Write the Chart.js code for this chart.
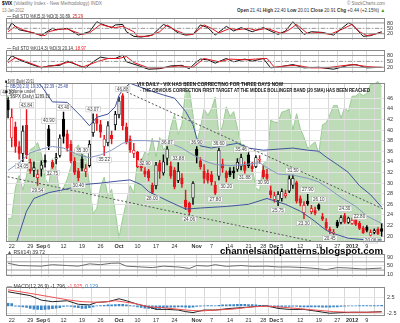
<!DOCTYPE html>
<html>
<head>
<meta charset="utf-8">
<script src="https://cdn.jsdelivr.net/npm/chart.js@4.4.0/dist/chart.umd.min.js"></script>
<style>
  html, body { margin: 0; padding: 0; background: #fff; }
  #wrap { position: relative; width: 400px; height: 323px; overflow: hidden; font-family: "Liberation Sans", Arial, sans-serif; }
  #wrap canvas { position: absolute; left: 0; }
  .t { position: absolute; white-space: nowrap; font-size: 5px; line-height: 5px; color: #333; transform-origin: left top; }
  .b { font-weight: bold; }
</style>
</head>
<body>
<div id="wrap">
  <canvas id="sto5" width="400" height="32" style="top:13px"></canvas>
  <canvas id="sto14" width="400" height="33" style="top:45px"></canvas>
  <canvas id="spxBg" width="400" height="171" style="top:78px"></canvas>
  <canvas id="price" width="400" height="171" style="top:78px"></canvas>
  <canvas id="rsi" width="400" height="33" style="top:249px"></canvas>
  <canvas id="macd" width="400" height="41" style="top:282px"></canvas>

  <div class="t" style="left:2px;top:1px;font-size:5.5px" data-w="100"><b style="color:#000">$VIX</b> <span style="color:#777">(Volatility Index - New Methodology) INDX</span></div>
  <div class="t" style="left:2px;top:8px;color:#777" data-w="22">13-Jan-2012</div>
  <div class="t" style="left:347px;top:1px;color:#777" data-w="38">© StockCharts.com</div>
  <div class="t" id="ohlcHead" style="left:237px;top:8px" data-w="148"></div>

  <div class="t" id="sto5Head" style="left:7px;top:14px" data-w="76"></div>
  <div class="t" id="sto14Head" style="left:7px;top:46px" data-w="79"></div>

  <div class="t" id="vixLeg" style="left:5px;top:79px" data-w="29"></div>
  <div class="t" id="bbLeg" style="left:5px;top:84px;color:#3b4f9a" data-w="63"></div>
  <div class="t" style="left:5px;top:89px" data-w="30"><span style="color:#000">■</span> Volume undef</div>
  <div class="t" id="spxLeg" style="left:5px;top:94px" data-w="45"></div>

  <div class="t b" style="left:137px;top:82px;color:#111" data-w="146">VIX DAILY - VIX HAS BEEN CORRECTING FOR THREE DAYS NOW</div>
  <div class="t b" style="left:140px;top:88px;color:#111" data-w="230">- THE OBVIOUS CORRECTION FIRST TARGET AT THE MIDDLE BOLLINGER BAND (20 SMA) HAS BEEN REACHED</div>

  <div class="t b" style="left:220px;top:247px;font-size:9px;line-height:9px;color:#000" data-w="163">channelsandpatterns.blogspot.com</div>
  <div class="t" id="rsiHead" style="left:7px;top:250px" data-w="38"></div>
  <div class="t" id="macdHead" style="left:7px;top:284px" data-w="91"></div>
</div>

<script>
const FONT = '"Liberation Sans", Arial, sans-serif';

// trading sessions, 19 Aug 2011 - 13 Jan 2012
const augDays = [19, 22, 23, 24, 25, 26, 29, 30, 31];
const sepDays = [1, 2, 6, 7, 8, 9, 12, 13, 14, 15, 16, 19, 20, 21, 22, 23, 26, 27, 28, 29, 30];
const octDays = [3, 4, 5, 6, 7, 10, 11, 12, 13, 14, 17, 18, 19, 20, 21, 24, 25, 26, 27, 28, 31];
const novDays = [1, 2, 3, 4, 7, 8, 9, 10, 11, 14, 15, 16, 17, 18, 21, 22, 23, 25, 28, 29, 30];
const decDays = [1, 2, 5, 6, 7, 8, 9, 12, 13, 14, 15, 16, 19, 20, 21, 22, 23, 27, 28, 29, 30];
const janDays = [3, 4, 5, 6, 9, 10, 11, 12, 13];
const sessions = [].concat(
  augDays.map(d => 'Aug ' + d), sepDays.map(d => 'Sep ' + d), octDays.map(d => 'Oct ' + d),
  novDays.map(d => 'Nov ' + d), decDays.map(d => 'Dec ' + d), janDays.map(d => 'Jan ' + d)
);

const tickDates = ['Aug 22', 'Aug 29', 'Sep 1', 'Sep 6', 'Sep 12', 'Sep 19', 'Sep 26', 'Oct 3', 'Oct 10', 'Oct 17', 'Oct 24',
  'Nov 1', 'Nov 7', 'Nov 14', 'Nov 21', 'Nov 28', 'Dec 1', 'Dec 5', 'Dec 12', 'Dec 19', 'Dec 27', 'Jan 3', 'Jan 9'];
const tickText = ['22', '29', 'Sep', '6', '12', '19', '26', 'Oct', '10', '17', '24',
  'Nov', '7', '14', '21', '28', 'Dec', '5', '12', '19', '27', '2012', '9'];
const monthTicks = ['Sep', 'Oct', 'Nov', 'Dec', '2012'];

// $VIX daily candles
const open = [45.6, 38.5, 40.6, 36.9, 35.6, 40.9, 34.0, 32.4, 31.0, 32.6,
  34.3, 40.2, 33.9, 34.5, 35.2, 42.0, 39.3, 37.3, 34.1, 32.3,
  34.5, 32.2, 33.3, 39.5, 42.1, 41.0, 36.9, 37.6, 39.0, 41.0,
  42.9, 46.5, 40.6, 38.3, 35.6, 35.8, 34.0, 32.3, 32.3, 29.6,
  29.5, 33.8, 31.9, 34.7, 33.2, 32.4, 30.5, 31.0, 26.8, 26.2,
  27.2, 36.4, 34.2, 32.2, 31.9, 31.6, 29.6, 31.3, 33.6, 32.0,
  32.3, 32.3, 32.6, 33.2, 33.5, 35.3, 33.2, 33.1, 34.3, 32.4,
  31.7, 28.6, 26.9, 26.7, 27.1, 27.6, 28.5, 29.6, 30.1, 27.1,
  24.4, 26.6, 24.6, 24.8, 25.9, 23.7, 22.6, 21.3, 20.6, 22.6,
  22.6, 23.9, 22.6, 22.4, 23.3, 22.4, 21.5, 21.7, 20.2, 20.7,
  21.3, 21.41];
const high = [46.2, 44.0, 41.5, 37.8, 40.8, 43.84, 34.5, 34.0, 32.5, 34.2,
  35.3, 40.9, 34.3, 35.6, 39.1, 43.4, 40.0, 38.0, 34.8, 32.8,
  35.3, 33.5, 38.0, 43.07, 43.0, 41.8, 39.0, 41.6, 39.8, 43.5,
  46.2, 46.88, 41.3, 38.9, 37.5, 36.0, 34.5, 32.9, 32.6, 30.0,
  33.9, 34.3, 35.3, 36.87, 34.0, 32.9, 33.88, 31.8, 28.7, 26.4,
  30.3, 36.9, 34.8, 33.5, 32.5, 32.2, 30.3, 36.6, 34.5, 32.3,
  32.9, 33.0, 34.6, 35.46, 34.0, 35.8, 33.9, 35.2, 35.2, 33.3,
  32.6, 29.5, 28.3, 28.4, 28.9, 28.7, 31.4, 31.5, 30.4, 27.6,
  26.5, 27.9, 25.8, 25.5, 26.1, 24.3, 23.3, 21.7, 21.3, 23.0,
  23.9, 24.3, 23.6, 23.4, 23.5, 22.8, 21.9, 22.0, 21.2, 21.4,
  21.6, 22.40];
const low = [42.3, 36.8, 35.8, 34.5, 34.05, 34.6, 31.8, 31.2, 29.54, 31.3,
  33.0, 36.3, 32.75, 33.6, 34.9, 37.5, 36.0, 33.8, 31.6, 30.4,
  32.3, 31.2, 33.0, 38.8, 39.9, 38.6, 35.22, 37.0, 37.4, 40.0,
  42.3, 40.0, 37.4, 35.8, 34.8, 32.9, 32.3, 31.2, 30.4, 28.0,
  28.9, 30.9, 31.5, 33.4, 30.9, 28.9, 30.1, 29.2, 25.0, 24.06,
  26.0, 33.8, 32.6, 30.0, 30.0, 29.6, 27.8, 30.6, 32.0, 30.2,
  31.2, 30.9, 32.2, 32.5, 31.88, 32.9, 32.2, 32.9, 33.7, 30.9,
  30.3, 27.2, 26.4, 25.75, 26.6, 27.2, 28.2, 29.0, 26.2, 25.7,
  23.3, 25.8, 24.2, 24.0, 24.9, 22.9, 21.2, 20.45, 20.3, 21.6,
  22.3, 22.4, 22.4, 22.2, 22.0, 21.2, 20.5, 20.8, 20.06, 20.4,
  20.3, 20.01];
const close = [43.8, 42.4, 36.9, 35.6, 39.8, 35.3, 32.3, 32.9, 31.6, 33.4,
  33.9, 37.0, 33.0, 34.8, 38.5, 38.8, 36.6, 34.2, 32.0, 31.0,
  32.8, 32.7, 37.3, 41.35, 41.25, 39.6, 38.3, 40.8, 38.3, 42.96,
  45.45, 40.82, 37.81, 36.27, 36.2, 33.04, 32.86, 31.7, 31.0, 28.24,
  33.4, 32.2, 34.0, 36.4, 31.32, 29.26, 32.22, 29.86, 25.46, 24.53,
  29.96, 35.2, 33.1, 30.9, 30.5, 30.2, 28.1, 36.16, 32.81, 31.0,
  31.6, 31.9, 33.9, 34.8, 32.4, 33.3, 32.7, 34.8, 34.47, 31.2,
  30.9, 27.8, 27.6, 27.9, 28.4, 28.0, 30.8, 30.9, 26.6, 26.2,
  25.8, 26.1, 25.2, 24.29, 25.2, 23.2, 21.5, 20.9, 20.73, 21.9,
  23.52, 22.65, 23.4, 22.97, 22.22, 21.48, 20.63, 21.07, 20.69, 21.05,
  20.47, 20.91];

// sessions whose high (H) or low (L) carries a price tag
const priceTags = [[0, 'H'], [4, 'L'], [5, 'H'], [8, 'L'], [11, 'H'], [12, 'L'], [15, 'H'], [19, 'L'], [20, 'H'],
  [23, 'H'], [26, 'L'], [31, 'H'], [37, 'H'], [39, 'L'], [43, 'H'], [46, 'H'], [49, 'L'], [51, 'H'], [56, 'L'],
  [57, 'H'], [59, 'L'], [63, 'H'], [64, 'L'], [69, 'L'], [73, 'L'], [77, 'H'], [80, 'L'], [81, 'H'], [84, 'H'],
  [87, 'L'], [91, 'H'], [95, 'H'], [98, 'L']];

// $SPX closes behind the price plot
const spx = [1123.5, 1123.8, 1162.4, 1177.6, 1159.3, 1176.8, 1210.1, 1212.9, 1218.9,
  1204.4, 1174.0, 1165.2, 1198.6, 1185.9, 1154.2, 1162.3, 1172.9, 1188.7, 1209.1, 1216.0,
  1204.1, 1202.1, 1166.8, 1129.6, 1136.4, 1163.0, 1175.4, 1151.1, 1160.4, 1131.4,
  1099.2, 1124.0, 1144.0, 1165.0, 1155.5, 1194.9, 1195.5, 1207.3, 1203.7, 1224.6, 1200.9,
  1225.4, 1209.9, 1215.4, 1238.3, 1254.2, 1229.1, 1242.0, 1284.6, 1285.1, 1253.3,
  1218.3, 1237.9, 1261.2, 1253.2, 1261.1, 1275.9, 1229.1, 1239.7, 1263.9, 1251.8, 1257.8,
  1236.9, 1216.1, 1215.7, 1193.0, 1188.0, 1161.8, 1158.7, 1192.6, 1195.2, 1247.0,
  1244.6, 1244.3, 1257.1, 1258.5, 1261.0, 1234.4, 1255.2, 1236.5, 1225.7, 1211.8, 1215.8,
  1219.7, 1205.4, 1241.3, 1243.7, 1254.0, 1265.3, 1265.4, 1249.6, 1263.0, 1257.6,
  1277.1, 1277.3, 1281.1, 1277.8, 1280.7, 1292.1, 1292.5, 1295.5, 1289.1];

// Bollinger bands (20, 2.0), [session, value]
const bbUpper = [[0, 53], [6, 51], [9, 48.3], [12, 45.3], [16, 45.2], [20, 42.4], [22, 40.8], [24, 42.4], [27, 43.0],
  [29, 44.4], [30, 46.5], [31, 47.6], [33, 48.8], [38, 47.5], [42, 46.6], [45, 46.0], [48, 43.5], [50, 41.0],
  [51, 38.5], [52, 37.0], [55, 36.6], [58, 37.0], [62, 37.5], [65, 36.6], [69, 36.2], [73, 36.4], [77, 36.6],
  [81, 36.2], [84, 36.0], [86, 34.9], [89, 33.5], [92, 32.0], [95, 29.5], [98, 27.8], [101, 25.48]];
const bbMiddle = [[0, 32.4], [3, 33.85], [6, 35.7], [9, 36.4], [12, 36.9], [15, 36.6], [19, 35.3], [22, 34.8],
  [25, 35.3], [28, 36.2], [31, 37.5], [34, 38.0], [37, 38.0], [40, 37.9], [44, 37.5], [47, 36.6], [50, 35.3],
  [53, 34.2], [56, 33.5], [60, 33.3], [64, 33.5], [68, 33.85], [70, 32.9], [73, 31.7], [77, 31.5], [81, 30.9],
  [84, 30.2], [86, 29.3], [90, 27.3], [94, 25.6], [97, 23.8], [101, 22.39]];
const bbLower = [[0, 14.5], [2, 18.2], [3, 20.4], [5, 24.7], [7, 27.1], [9, 27.65], [11, 28.2], [16, 28.9],
  [20, 29.7], [25, 30.0], [30, 30.4], [33, 30.6], [36, 29.7], [38, 28.4], [43, 26.7], [48, 25.1], [52, 25.3],
  [59, 25.6], [65, 26.0], [70, 27.1], [75, 26.0], [79, 24.7], [82, 23.3], [86, 21.1], [88, 20.5], [92, 19.6],
  [97, 19.3], [101, 19.30]];

// hand-drawn trend lines
const trendHigh = [[31, 47.5], [104, 24.3]];
const trendLow = [[-2.2, 31.5], [90, 17.9]];

// Full STO %K / %D, [session, value]
const sto5K = [[0, 42], [1, 80], [3, 42], [7, 24], [9, 9], [10, 24], [12, 50], [13, 42], [16, 50], [19, 12], [22, 31],
  [24, 87], [26, 69], [28, 54], [29, 69], [31, 72], [32, 31], [34, 5], [36, 1], [39, 12], [42, 72], [44, 54],
  [46, 24], [48, 12], [50, 16], [51, 42], [52, 69], [54, 54], [56, 12], [59, 61], [61, 35], [63, 54], [66, 31],
  [69, 54], [73, 16], [75, 35], [77, 87], [80, 16], [82, 31], [85, 27], [88, 12], [92, 80], [93, 72], [96, 5],
  [98, 9], [101, 30.89]];
const sto5D = [[0, 31], [2, 61], [4, 42], [8, 16], [10, 9], [11, 31], [14, 46], [16, 46], [20, 16], [22, 24], [25, 72],
  [27, 61], [29, 54], [31, 61], [34, 31], [35, 5], [38, 5], [41, 31], [43, 69], [45, 42], [48, 16], [50, 16],
  [53, 69], [55, 50], [57, 24], [60, 50], [62, 42], [65, 50], [67, 39], [70, 50], [74, 20], [76, 42], [78, 72],
  [81, 20], [84, 27], [87, 16], [90, 42], [93, 72], [95, 31], [97, 9], [101, 25.29]];
const sto14K = [[0, 55], [1, 79], [3, 58], [6, 37], [9, 17], [11, 27], [14, 30], [16, 51], [19, 30], [21, 17], [23, 48],
  [25, 72], [27, 65], [29, 65], [31, 82], [32, 48], [35, 30], [38, 10], [41, 13], [44, 27], [47, 30], [49, 13],
  [51, 48], [52, 62], [54, 58], [56, 41], [59, 65], [61, 48], [64, 62], [66, 51], [69, 65], [71, 17], [74, 24],
  [77, 34], [80, 17], [84, 20], [88, 10], [92, 30], [94, 34], [97, 17], [101, 20.14]];
const sto14D = [[0, 44], [2, 69], [5, 48], [9, 20], [12, 27], [17, 48], [20, 20], [24, 48], [27, 65], [30, 65], [32, 75],
  [34, 44], [38, 17], [42, 17], [46, 27], [50, 20], [53, 65], [57, 48], [60, 62], [64, 58], [67, 62], [70, 65],
  [72, 20], [75, 27], [78, 30], [82, 17], [86, 17], [90, 27], [93, 34], [97, 24], [101, 18.97]];
const stoLevels = [80, 20];
const stoMid = 50;

// RSI(14)
const rsi14 = [[0, 63], [3, 52], [9, 49], [12, 56], [16, 52], [19, 49], [22, 60], [25, 56], [28, 63], [30, 64], [32, 49],
  [36, 45], [39, 42], [42, 49], [46, 45], [49, 38], [51, 52], [54, 49], [56, 56], [59, 48], [63, 52], [66, 48],
  [70, 49], [73, 45], [76, 45], [80, 42], [83, 38], [86, 32], [89, 42], [92, 40], [96, 35], [101, 39.72]];
const rsiLevels = [70, 30];

// MACD(12,26,9)
const macdLine = [[0, 4.4], [2, 4.0], [6, 3.2], [9, 1.8], [12, 1.3], [16, 1.6], [19, 0.5], [22, 0.3], [24, 1.1], [27, 1.3],
  [30, 2.2], [32, 1.6], [35, 0.5], [38, -0.3], [40, -1.1], [43, -1.1], [46, -1.3], [48, -1.8], [50, -2.1], [53, -1.3],
  [56, -1.3], [60, -0.8], [64, -0.5], [68, -0.1], [70, 0.0], [73, -0.8], [76, -1.1], [80, -1.1], [83, -1.6],
  [87, -2.3], [90, -2.1], [93, -2.0], [97, -2.0], [101, -1.796]];
const macdSignal = [[0, 5.0], [6, 3.9], [11, 2.9], [16, 1.9], [20, 1.3], [25, 1.1], [29, 1.6], [34, 0.8], [38, -0.3],
  [43, -0.7], [48, -1.3], [52, -1.6], [56, -1.3], [61, -1.0], [66, -0.3], [70, -0.1], [74, -0.4], [79, -0.9],
  [83, -1.3], [88, -1.8], [92, -2.0], [97, -2.0], [101, -1.925]];
const macdHist = [0.8, 0.7, -0.1, -0.2, -0.3, -0.5, -0.8, -1.0, -1.1, -1.2, -1.1, -1.0, -0.9, -0.7, -0.6,
  -0.2, -0.1, -0.2, -0.4, -0.6, -0.8, -0.8, -0.6, -0.3, 0.0, 0.1, 0.2, 0.3, 0.3, 0.4, 0.5, 0.5,
  0.3, 0.1, -0.1, -0.3, -0.5, -0.7, -0.8, -0.9, -0.9, -0.8, -0.6, -0.5, -0.4, -0.4, -0.3, -0.3, -0.4, -0.5, -0.4,
  -0.2, -0.1, 0.0, 0.1, 0.1, 0.0, 0.2, 0.3, 0.3, 0.4, 0.4, 0.5, 0.5, 0.5, 0.4, 0.4, 0.3, 0.2, 0.1,
  -0.1, -0.3, -0.4, -0.4, -0.3, -0.2, -0.2, -0.1, -0.2, -0.3, -0.3, -0.3, -0.3, -0.3, -0.3, -0.4, -0.4, -0.4,
  -0.3, -0.3, -0.2, -0.1, 0.0, 0.0, 0.0, 0.1, 0.1, 0.1, 0.1, 0.1, 0.1, 0.129];

const priceTicks = [20, 22, 24, 26, 28, 30, 32, 34, 36, 38, 40, 42, 44, 46];
const stoTicks = [20, 50, 80];
const rsiTicks = [10, 30, 50, 70, 90];
const macdTicks = [-2.5, 0, 2.5, 5];

const RED = '#e8141c', BAND = '#40549c', MID = '#8796c4';
const X_MIN = -0.55, X_MAX = 101.9;
const tickDays = tickDates.map(d => sessions.indexOf(d));
const last = a => a[a.length - 1];
const pts = arr => arr.map(([x, y]) => ({ x, y }));

Chart.defaults.font.family = FONT;
Chart.defaults.animation = false;

// ---- header texts ----
const n = close.length;
const chg = close[n - 1] - close[n - 2];
document.getElementById('ohlcHead').innerHTML =
  `<b>Open</b> ${open[n - 1].toFixed(2)} <b>High</b> ${high[n - 1].toFixed(2)} <b>Low</b> ${low[n - 1].toFixed(2)} ` +
  `<b>Close</b> ${close[n - 1].toFixed(2)} <b>Chg</b> +${chg.toFixed(2)} (+${(chg / close[n - 2] * 100).toFixed(2)}%) <span style="color:#2a9a2a">▲</span>`;
document.getElementById('sto5Head').innerHTML =
  `<span style="color:#000">—</span> Full STO %K(5,3) %D(3) ${last(sto5K)[1].toFixed(2)}, <span style="color:${RED}">${last(sto5D)[1].toFixed(2)}</span>`;
document.getElementById('sto14Head').innerHTML =
  `<span style="color:#000">—</span> Full STO %K(14,3) %D(3) ${last(sto14K)[1].toFixed(2)}, <span style="color:${RED}">${last(sto14D)[1].toFixed(2)}</span>`;
document.getElementById('vixLeg').innerHTML = `<span style="color:#000">■</span> $VIX (Daily) ${last(close).toFixed(2)}`;
document.getElementById('bbLeg').innerHTML =
  `— BB(20,2.0) ${last(bbLower)[1].toFixed(2)} - ${last(bbMiddle)[1].toFixed(2)} - ${last(bbUpper)[1].toFixed(2)}`;
document.getElementById('spxLeg').innerHTML = `<span style="color:#7fbf79">▲</span> $SPX (Daily) ${last(spx).toFixed(2)}`;
document.getElementById('rsiHead').innerHTML = `<span style="color:#555">▲</span> RSI(14) ${last(rsi14)[1].toFixed(2)}`;
document.getElementById('macdHead').innerHTML =
  `— MACD(12,26,9) ${last(macdLine)[1].toFixed(3)}, <span style="color:#f05050">${last(macdSignal)[1].toFixed(3)}</span>, ` +
  `<span style="color:#3d86c6">${last(macdHist).toFixed(3)}</span>`;

document.querySelectorAll('[data-w]').forEach(el => {
  const w = el.getBoundingClientRect().width;
  el.style.transform = `scaleX(${(+el.dataset.w / w).toFixed(3)})`;
});

// ---- shared scale builders ----
function xScale(showLabels) {
  return {
    type: 'linear', min: X_MIN, max: X_MAX, offset: false,
    afterBuildTicks: s => { s.ticks = tickDays.map(v => ({ value: v })); },
    grid: { color: '#d8d8d8', drawTicks: false },
    border: { display: false },
    ticks: {
      display: showLabels, autoSkip: false, maxRotation: 0, padding: 1, color: '#333',
      font: c => ({ size: 5.5, family: FONT, weight: monthTicks.includes(tickText[c.index]) ? 'bold' : 'normal' }),
      callback: (v, i) => tickText[i]
    },
    afterFit: s => { s.height = showLabels ? 7 : 0; }
  };
}

function yScale(min, max, ticks, fmt) {
  return {
    position: 'right', min, max,
    afterBuildTicks: s => { s.ticks = ticks.map(v => ({ value: v })); },
    grid: { color: '#e4e4e4', drawTicks: false },
    border: { display: false },
    ticks: { color: '#333', padding: 2, font: { size: 5.5, family: FONT }, callback: fmt || (v => v) },
    afterFit: s => { s.width = 15; }
  };
}

function options(y, showLabels) {
  return {
    responsive: false, devicePixelRatio: 1, events: [],
    layout: { padding: { left: 6, right: 0, top: 0, bottom: 0 } },
    plugins: { legend: { display: false }, tooltip: { enabled: false } },
    scales: { x: xScale(showLabels), y }
  };
}

function line(data, color, width, dash) {
  return { type: 'line', data, borderColor: color, borderWidth: width || 1, borderDash: dash || [],
    pointRadius: 0, tension: 0, fill: false };
}

function level(v, dash) {
  return line([{ x: X_MIN, y: v }, { x: X_MAX, y: v }], '#9a9a9a', 1, dash);
}

// panel outline
const frame = {
  id: 'frame',
  afterDraw(chart) {
    const a = chart.chartArea, g = chart.ctx;
    g.save();
    g.strokeStyle = '#8a8a8a';
    g.lineWidth = 1;
    g.strokeRect(Math.round(a.left) + 0.5, Math.round(a.top) + 0.5, Math.round(a.width) - 1, Math.round(a.height) - 1);
    g.restore();
  }
};

// boxed high / low values above or below the candles
const tagPlugin = {
  id: 'tags',
  afterDatasetsDraw(chart) {
    const { ctx, scales: { x, y } } = chart;
    ctx.save();
    ctx.font = '4.6px ' + FONT;
    ctx.textAlign = 'center';
    ctx.textBaseline = 'middle';
    priceTags.forEach(([i, side]) => {
      const v = side === 'H' ? high[i] : low[i];
      const t = v.toFixed(2);
      const px = x.getPixelForValue(i);
      const py = y.getPixelForValue(v) + (side === 'H' ? -4.5 : 4.5);
      const w = ctx.measureText(t).width + 3;
      ctx.fillStyle = 'rgba(255,255,255,0.85)';
      ctx.fillRect(px - w / 2, py - 2.7, w, 5.4);
      ctx.strokeStyle = '#b8b8b8';
      ctx.lineWidth = 0.5;
      ctx.strokeRect(px - w / 2, py - 2.7, w, 5.4);
      ctx.fillStyle = '#444';
      ctx.fillText(t, px, py + 0.3);
    });
    ctx.restore();
  }
};

// ---- stochastics ----
new Chart(document.getElementById('sto5'), {
  type: 'line',
  data: { datasets: [
    ...stoLevels.map(v => level(v)), level(stoMid, [4, 2, 1, 2]),
    line(pts(sto5D), RED), line(pts(sto5K), '#111')
  ] },
  options: options(yScale(-13.9, 106.4, stoTicks), false),
  plugins: [frame]
});

new Chart(document.getElementById('sto14'), {
  type: 'line',
  data: { datasets: [
    ...stoLevels.map(v => level(v)), level(stoMid, [4, 2, 1, 2]),
    line(pts(sto14D), RED), line(pts(sto14K), '#111')
  ] },
  options: options(yScale(-7.6, 106.6, stoTicks), false),
  plugins: [frame]
});

// ---- $SPX area behind the price panel ----
const bgOpts = options({
  position: 'right', min: 1094, max: 1300,
  grid: { display: false }, border: { display: false }, ticks: { display: false },
  afterFit: s => { s.width = 15; }
}, true);
bgOpts.scales.x.grid = { display: false };
bgOpts.scales.x.ticks = { display: false };
new Chart(document.getElementById('spxBg'), {
  type: 'line',
  data: { datasets: [{
    data: spx.map((v, i) => ({ x: i, y: v })), fill: 'start',
    backgroundColor: '#bedcb8', borderColor: '#9ccb96', borderWidth: 1, pointRadius: 0, tension: 0
  }] },
  options: bgOpts
});

// ---- price candles, bands and trend lines ----
const candleColor = close.map((c, i) => (i > 0 && c < close[i - 1]) ? RED : '#000');
const candleFill = close.map((c, i) => c < open[i] ? candleColor[i] : '#fff');

new Chart(document.getElementById('price'), {
  type: 'line',
  data: { datasets: [
    line(pts(bbMiddle), MID),
    line(pts(bbUpper), BAND),
    line(pts(bbLower), BAND),
    line(pts(trendHigh), '#555', 1, [2, 2]),
    line(pts(trendLow), '#555', 1, [2, 2]),
    { type: 'bar', grouped: false, order: 3, barThickness: 0.8,
      data: close.map((_, i) => ({ x: i, y: [low[i], high[i]] })),
      backgroundColor: candleColor },
    { type: 'bar', grouped: false, order: 2, barThickness: 2.6, minBarLength: 1,
      data: close.map((_, i) => ({ x: i, y: [open[i], close[i]] })),
      backgroundColor: candleFill, borderColor: candleColor, borderWidth: 0.8, borderSkipped: false }
  ] },
  options: options(yScale(18.9, 48.8, priceTicks), true),
  plugins: [frame, tagPlugin]
});

// ---- RSI ----
new Chart(document.getElementById('rsi'), {
  type: 'line',
  data: { datasets: [...rsiLevels.map(v => level(v)), line(pts(rsi14), '#6a6a6a')] },
  options: options(yScale(-2.2, 106.4, rsiTicks), false),
  plugins: [frame]
});

// ---- MACD ----
new Chart(document.getElementById('macd'), {
  type: 'line',
  data: { datasets: [
    { type: 'bar', barThickness: 2, order: 3, backgroundColor: '#3d86c6',
      data: macdHist.map((v, i) => ({ x: i, y: v })) },
    line(pts(macdSignal), '#f05050'),
    line(pts(macdLine), '#222')
  ] },
  options: options(yScale(-3.16, 5.79, macdTicks, v => v.toFixed(1)), true),
  plugins: [frame]
});
</script>
</body>
</html>
